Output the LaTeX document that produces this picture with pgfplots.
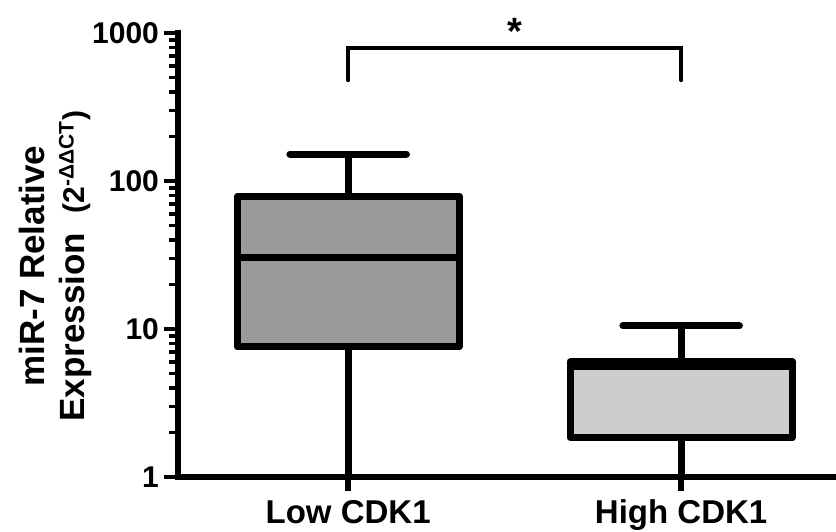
\documentclass[border=0pt]{standalone}
\usepackage{pgfplots}
\pgfplotsset{compat=1.18}
\usepackage{fontspec}
\setmainfont{Liberation Sans}
\definecolor{lowfill}{RGB}{154,154,154}
\definecolor{highfill}{RGB}{205,205,205}
\begin{document}
\begin{tikzpicture}
\path[use as bounding box] (-89pt,-27pt) rectangle (329pt,238.5pt);
\begin{axis}[
  scale only axis, width=329pt, height=222pt,
  xmin=0.489, xmax=2.465, ymin=1, ymax=1000, ymode=log,
  axis x line=bottom, axis y line=left,
  axis line style={-, line width=3.3pt, line cap=rect},
  xtick={1,2}, xticklabels={Low CDK1, High CDK1},
  ytick={1,10,100,1000}, yticklabels={1,10,100,1000},
  tick align=outside,
  major tick length=7pt,
  every tick/.style={black, line width=1.8pt},
  xtick style={line width=3.3pt},
  x tick label style={font=\fontsize{16.5}{19}\selectfont\bfseries, yshift=-1pt},
  y tick label style={font=\fontsize{15}{17}\selectfont\bfseries, xshift=1pt},
  every axis y label/.style={at={(axis description cs:-0.131,0.475)}, anchor=south, rotate=90, inner sep=0pt, align=center, font=\fontsize{17.5}{20}\selectfont\bfseries},
  ylabel={miR-7 Relative\\Expression\ \ {\fontsize{15}{17}\selectfont(2\textsuperscript{-ΔΔCT})}},
  clip=false,
]
% minor ticks of the log axis (one short segment each)
\addplot[black, line width=1.8pt, forget plot] coordinates {(0.489,2)(0.462,2)};
\addplot[black, line width=1.8pt, forget plot] coordinates {(0.489,3)(0.462,3)};
\addplot[black, line width=1.8pt, forget plot] coordinates {(0.489,4)(0.462,4)};
\addplot[black, line width=1.8pt, forget plot] coordinates {(0.489,5)(0.462,5)};
\addplot[black, line width=1.8pt, forget plot] coordinates {(0.489,6)(0.462,6)};
\addplot[black, line width=1.8pt, forget plot] coordinates {(0.489,7)(0.462,7)};
\addplot[black, line width=1.8pt, forget plot] coordinates {(0.489,8)(0.462,8)};
\addplot[black, line width=1.8pt, forget plot] coordinates {(0.489,9)(0.462,9)};
\addplot[black, line width=1.8pt, forget plot] coordinates {(0.489,20)(0.462,20)};
\addplot[black, line width=1.8pt, forget plot] coordinates {(0.489,30)(0.462,30)};
\addplot[black, line width=1.8pt, forget plot] coordinates {(0.489,40)(0.462,40)};
\addplot[black, line width=1.8pt, forget plot] coordinates {(0.489,50)(0.462,50)};
\addplot[black, line width=1.8pt, forget plot] coordinates {(0.489,60)(0.462,60)};
\addplot[black, line width=1.8pt, forget plot] coordinates {(0.489,70)(0.462,70)};
\addplot[black, line width=1.8pt, forget plot] coordinates {(0.489,80)(0.462,80)};
\addplot[black, line width=1.8pt, forget plot] coordinates {(0.489,90)(0.462,90)};
\addplot[black, line width=1.8pt, forget plot] coordinates {(0.489,200)(0.462,200)};
\addplot[black, line width=1.8pt, forget plot] coordinates {(0.489,300)(0.462,300)};
\addplot[black, line width=1.8pt, forget plot] coordinates {(0.489,400)(0.462,400)};
\addplot[black, line width=1.8pt, forget plot] coordinates {(0.489,500)(0.462,500)};
\addplot[black, line width=1.8pt, forget plot] coordinates {(0.489,600)(0.462,600)};
\addplot[black, line width=1.8pt, forget plot] coordinates {(0.489,700)(0.462,700)};
\addplot[black, line width=1.8pt, forget plot] coordinates {(0.489,800)(0.462,800)};
\addplot[black, line width=1.8pt, forget plot] coordinates {(0.489,900)(0.462,900)};
% Low CDK1: whiskers, box, median
\addplot[black, line width=3.5pt] coordinates {(1,1) (1,7.56)};
\addplot[black, line width=3.5pt] coordinates {(1,79) (1,152)};
\addplot[black, line width=3.5pt, line cap=round] coordinates {(0.825,152) (1.175,152)};
\addplot[fill=lowfill, draw=black, line width=3.5pt, line join=round] coordinates {(0.6665,7.56) (1.3335,7.56) (1.3335,79) (0.6665,79)} -- cycle;
\addplot[black, line width=3.5pt] coordinates {(0.6665,30.6) (1.3335,30.6)};
% High CDK1
\addplot[black, line width=3.5pt] coordinates {(2,1) (2,1.84)};
\addplot[black, line width=3.5pt] coordinates {(2,6.0) (2,10.5)};
\addplot[black, line width=3.5pt, line cap=round] coordinates {(1.825,10.5) (2.175,10.5)};
\addplot[fill=highfill, draw=black, line width=3.5pt, line join=round] coordinates {(1.6665,1.84) (2.3335,1.84) (2.3335,6.0) (1.6665,6.0)} -- cycle;
\addplot[black, line width=3.5pt] coordinates {(1.6665,5.6) (2.3335,5.6)};
% significance bracket
\addplot[black, line width=2pt, line cap=round] coordinates {(1,480) (1,794) (2,794) (2,480)};
\node[anchor=base, font=\fontsize{19}{22}\selectfont\bfseries, inner sep=0pt] at (axis cs:1.5,830) {*};
\end{axis}
\end{tikzpicture}
\end{document}
